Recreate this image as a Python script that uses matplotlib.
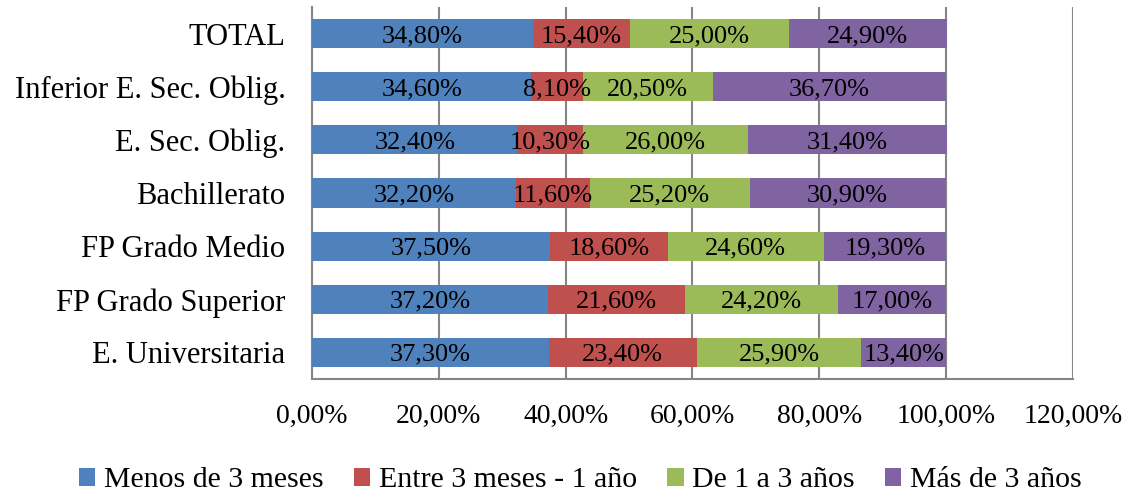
import matplotlib
matplotlib.use("Agg")
import matplotlib.pyplot as plt
from matplotlib.ticker import FuncFormatter
import numpy as np

plt.rcParams['font.family'] = ['Liberation Serif', 'DejaVu Serif']

categories = ["TOTAL", "Inferior E. Sec. Oblig.", "E. Sec. Oblig.", "Bachillerato",
              "FP Grado Medio", "FP Grado Superior", "E. Universitaria"]
series_names = ["Menos de 3 meses", "Entre 3 meses - 1 año", "De 1 a 3 años", "Más de 3 años"]
menos_3_meses = [34.8, 34.6, 32.4, 32.2, 37.5, 37.2, 37.3]
entre_3m_1a = [15.4, 8.1, 10.3, 11.6, 18.6, 21.6, 23.4]
de_1_a_3 = [25.0, 20.5, 26.0, 25.2, 24.6, 24.2, 25.9]
mas_3_anos = [24.9, 36.7, 31.4, 30.9, 19.3, 17.0, 13.4]
x_ticks = [0, 20, 40, 60, 80, 100, 120]

colors = ["#4F81BD", "#C0504D", "#9BBB59", "#8064A2"]
grid_color = "#868686"


def pct(v):
    return f"{v:.2f}%".replace(".", ",")


fig = plt.figure(figsize=(11.25, 4.91), dpi=100)
ax = fig.add_axes([0.2773, 0.2281, 0.6765, 0.7576])

y = np.arange(len(categories))
left = np.zeros(len(categories))
handles = []
for name, vals, col in zip(series_names, [menos_3_meses, entre_3m_1a, de_1_a_3, mas_3_anos], colors):
    vals = np.array(vals)
    bars = ax.barh(y, vals, left=left, height=0.55, color=col, label=name, zorder=3)
    handles.append(bars)
    for yi, l, v in zip(y, left, vals):
        ax.text(l + v / 2, yi, pct(v), ha="center", va="center_baseline",
                fontsize=19, color="black", zorder=4)
    left = left + vals

ax.set_xlim(0, 120)
ax.set_ylim(len(categories) - 0.5, -0.5)
ax.set_xticks(x_ticks)
ax.xaxis.set_major_formatter(FuncFormatter(lambda v, p: pct(v)))
ax.set_yticks(y)
ax.set_yticklabels(categories)
ax.tick_params(axis="x", length=0, pad=18, labelsize=20)
ax.tick_params(axis="y", length=0, pad=19, labelsize=22)
ax.grid(axis="x", color=grid_color, linewidth=1.5, zorder=0)
for s in ["top", "right"]:
    ax.spines[s].set_visible(False)
for s in ["left", "bottom"]:
    ax.spines[s].set_color(grid_color)
    ax.spines[s].set_linewidth(1.5)

fig.legend(handles=handles, labels=series_names, loc="center", bbox_to_anchor=(0.516, 0.022),
           ncol=4, frameon=False, fontsize=21.5, handlelength=0.55, handleheight=0.55,
           handletextpad=0.3, columnspacing=1.0, borderaxespad=0, borderpad=0)

fig.savefig("out.png", dpi=100)
